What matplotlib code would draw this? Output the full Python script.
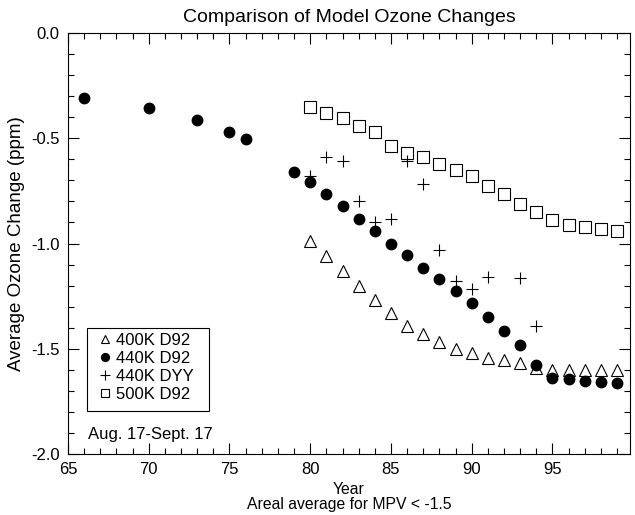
import matplotlib.pyplot as plt
from matplotlib.patches import Rectangle
from matplotlib.ticker import MultipleLocator

plt.rcParams['font.family'] = ['Liberation Sans', 'DejaVu Sans']

# 400K D92
years_400 = [80, 81, 82, 83, 84, 85, 86, 87, 88, 89, 90, 91, 92, 93, 94, 95, 96, 97, 98, 99]
ozone_400 = [-0.99, -1.06, -1.13, -1.20, -1.27, -1.33, -1.39, -1.43, -1.47, -1.50,
             -1.52, -1.545, -1.555, -1.57, -1.59, -1.60, -1.60, -1.60, -1.60, -1.60]

# 440K D92
years_440 = [66, 70, 73, 75, 76, 79, 80, 81, 82, 83, 84, 85, 86, 87, 88, 89, 90, 91, 92,
             93, 94, 95, 96, 97, 98, 99]
ozone_440 = [-0.31, -0.355, -0.415, -0.47, -0.505, -0.66, -0.71, -0.765, -0.82, -0.885,
             -0.94, -1.0, -1.055, -1.115, -1.17, -1.225, -1.285, -1.35, -1.415, -1.48,
             -1.575, -1.637, -1.645, -1.655, -1.66, -1.665]

# 440K DYY
years_dyy = [80, 81, 82, 83, 84, 85, 86, 87, 88, 89, 90, 91, 93, 94]
ozone_dyy = [-0.68, -0.59, -0.61, -0.80, -0.90, -0.885, -0.61, -0.715, -1.03, -1.18,
             -1.215, -1.16, -1.165, -1.39]

# 500K D92
years_500 = [80, 81, 82, 83, 84, 85, 86, 87, 88, 89, 90, 91, 92, 93, 94, 95, 96, 97, 98, 99]
ozone_500 = [-0.35, -0.38, -0.405, -0.44, -0.47, -0.535, -0.57, -0.59, -0.62, -0.65,
             -0.68, -0.725, -0.765, -0.81, -0.848, -0.888, -0.91, -0.922, -0.932, -0.942]

fig = plt.figure(figsize=(6.35, 5.15), dpi=100)
ax = fig.add_axes([68 / 635, 61 / 515, 562 / 635, 421 / 515])

ax.plot(years_400, ozone_400, ls='none', marker='^', ms=8, mfc='none', mec='black',
        mew=0.8, label='400K D92')
ax.plot(years_440, ozone_440, ls='none', marker='o', ms=7.5, color='black',
        label='440K D92')
ax.plot(years_dyy, ozone_dyy, ls='none', marker='+', ms=9, color='black', mew=0.8,
        label='440K DYY')
ax.plot(years_500, ozone_500, ls='none', marker='s', ms=8.5, mfc='none', mec='black',
        mew=0.8, label='500K D92')

ax.set_xlim(65, 99.8)
ax.set_ylim(-2.0, 0.0)
ax.xaxis.set_major_locator(MultipleLocator(5))
ax.xaxis.set_minor_locator(MultipleLocator(1))
ax.yaxis.set_major_locator(MultipleLocator(0.5))
ax.yaxis.set_minor_locator(MultipleLocator(0.1))
ax.yaxis.set_major_formatter(plt.FormatStrFormatter('%.1f'))
ax.tick_params(which='both', direction='in', top=True, right=True, labelsize=12,
               width=0.8)
ax.tick_params(which='major', length=8, pad=6)
ax.tick_params(which='minor', length=4)
for s in ax.spines.values():
    s.set_linewidth(0.8)

ax.set_title('Comparison of Model Ozone Changes', fontsize=14, pad=8)
ax.set_xlabel('Year\nAreal average for MPV < -1.5', fontsize=11.3, labelpad=3,
              linespacing=1.0)
ax.set_ylabel('Average Ozone Change (ppm)', fontsize=13.5, labelpad=4)

# legend drawn without its own frame, boxed separately
leg = ax.legend(loc='upper left', bbox_to_anchor=(0.057, 0.288), fontsize=12,
                frameon=False, handlelength=0.6, handletextpad=0.35,
                borderpad=0, borderaxespad=0, labelspacing=0.18, markerscale=0.75)
ax.add_patch(Rectangle((0.034, 0.102), 0.217, 0.197, transform=ax.transAxes,
                       fill=False, ec='black', lw=0.8))

ax.text(0.036, 0.047, 'Aug. 17-Sept. 17', transform=ax.transAxes, fontsize=12,
        va='center')

fig.savefig('out.png', dpi=100)
